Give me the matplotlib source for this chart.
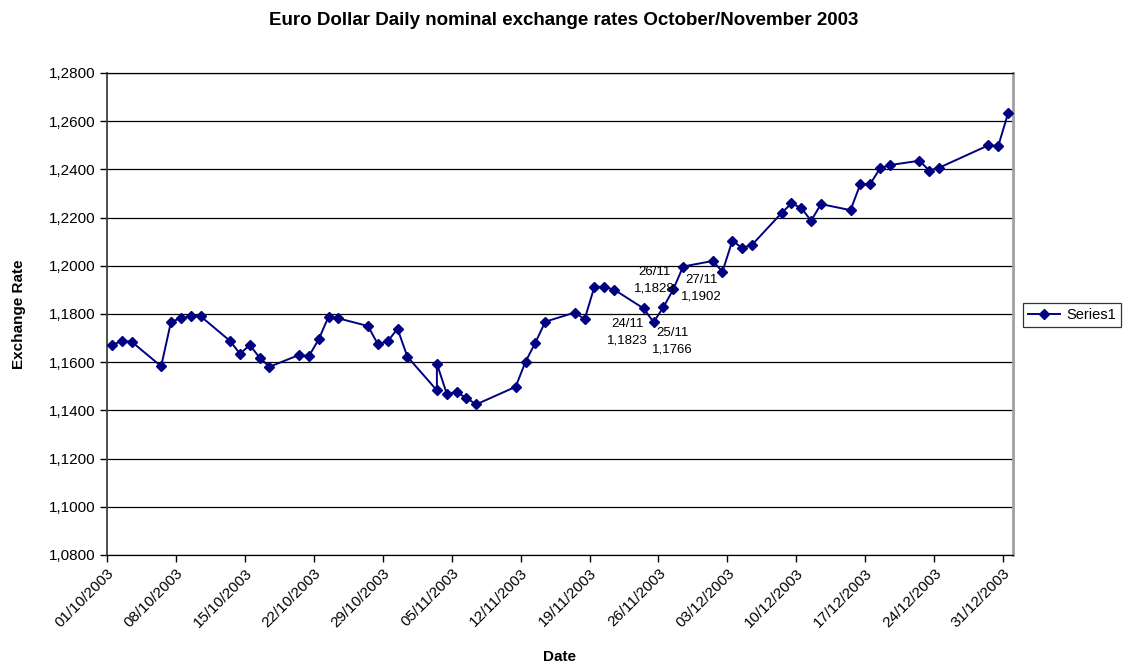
import datetime as dt
import matplotlib
matplotlib.use('Agg')
import matplotlib.pyplot as plt
import matplotlib.dates as mdates
from matplotlib.ticker import FuncFormatter, MultipleLocator

plt.rcParams['font.family'] = ['Liberation Sans', 'DejaVu Sans']

# trading days (Nov 3 appears twice in the source series)
dates = [
    '2003-10-01', '2003-10-02', '2003-10-03', '2003-10-06', '2003-10-07', '2003-10-08',
    '2003-10-09', '2003-10-10', '2003-10-13', '2003-10-14', '2003-10-15', '2003-10-16',
    '2003-10-17', '2003-10-20', '2003-10-21', '2003-10-22', '2003-10-23', '2003-10-24',
    '2003-10-27', '2003-10-28', '2003-10-29', '2003-10-30', '2003-10-31', '2003-11-03',
    '2003-11-03', '2003-11-04', '2003-11-05', '2003-11-06', '2003-11-07', '2003-11-11',
    '2003-11-12', '2003-11-13', '2003-11-14', '2003-11-17', '2003-11-18', '2003-11-19',
    '2003-11-20', '2003-11-21', '2003-11-24', '2003-11-25', '2003-11-26', '2003-11-27',
    '2003-11-28', '2003-12-01', '2003-12-02', '2003-12-03', '2003-12-04', '2003-12-05',
    '2003-12-08', '2003-12-09', '2003-12-10', '2003-12-11', '2003-12-12', '2003-12-15',
    '2003-12-16', '2003-12-17', '2003-12-18', '2003-12-19', '2003-12-22', '2003-12-23',
    '2003-12-24', '2003-12-29', '2003-12-30', '2003-12-31',
]
rates = [
    1.1671, 1.1688, 1.1685, 1.1583, 1.1768, 1.1782,
    1.1791, 1.1791, 1.1688, 1.1635, 1.1671, 1.1619,
    1.1581, 1.1630, 1.1625, 1.1695, 1.1789, 1.1782,
    1.1750, 1.1675, 1.1686, 1.1739, 1.1623, 1.1483,
    1.1594, 1.1469, 1.1476, 1.1451, 1.1425, 1.1498,
    1.1602, 1.1681, 1.1768, 1.1806, 1.1778, 1.1914,
    1.1912, 1.1901, 1.1823, 1.1766, 1.1828, 1.1902,
    1.1997, 1.2020, 1.1976, 1.2104, 1.2074, 1.2087,
    1.2219, 1.2259, 1.2240, 1.2187, 1.2256, 1.2231,
    1.2339, 1.2339, 1.2405, 1.2418, 1.2436, 1.2395,
    1.2407, 1.2500, 1.2497, 1.2633,
]
labelled = ['2003-11-24', '2003-11-25', '2003-11-26', '2003-11-27']
label_offsets = [(-16, -24), (19, -19), (-9, 27), (28, 1)]

navy = '#000080'
half_day = dt.timedelta(hours=12)
x = [dt.datetime.strptime(d, '%Y-%m-%d') + half_day for d in dates]

fig = plt.figure(figsize=(11.28, 6.66), dpi=100)
ax = fig.add_axes([107 / 1128, 1 - 555 / 666, (1013 - 107) / 1128, (555 - 73) / 666])

ax.plot(x, rates, color=navy, lw=1.4, marker='D', ms=5.5, label='Series1', zorder=3)

for d, off in zip(labelled, label_offsets):
    i = dates.index(d)
    day = dt.datetime.strptime(d, '%Y-%m-%d')
    txt = day.strftime('%d/%m') + '\n' + ('%.4f' % rates[i]).replace('.', ',')
    ax.annotate(txt, (x[i], rates[i]), xytext=off, textcoords='offset pixels',
                ha='center', va='center', fontsize=9.5, linespacing=1.45)

ax.set_xlim(dt.datetime(2003, 10, 1), dt.datetime(2004, 1, 1))
ax.set_ylim(1.08, 1.28)
ax.yaxis.set_major_locator(MultipleLocator(0.02))
ax.yaxis.set_major_formatter(FuncFormatter(lambda v, p: ('%.4f' % v).replace('.', ',')))
ticks = [dt.datetime(2003, 10, 1) + dt.timedelta(days=7 * k) for k in range(14)]
ax.set_xticks(ticks)
ax.xaxis.set_major_formatter(mdates.DateFormatter('%d/%m/%Y'))
plt.setp(ax.get_xticklabels(), rotation=45, ha='right', rotation_mode='anchor')

ax.grid(axis='y', color='black', lw=0.9)
ax.set_axisbelow(True)
ax.tick_params(axis='both', length=5, width=1, labelsize=11, direction='out', color='black')
ax.tick_params(axis='x', pad=3)
for s in ['top', 'left', 'bottom']:
    ax.spines[s].set_color('black')
    ax.spines[s].set_linewidth(0.9)
ax.spines['left'].set_color('#404040')
ax.spines['left'].set_linewidth(1.3)
ax.spines['right'].set_color('#a0a0a0')
ax.spines['right'].set_linewidth(2)

ax.set_xlabel('Date', fontsize=11, fontweight='bold', labelpad=14)
ax.set_ylabel('Exchange Rate', fontsize=11, fontweight='bold', labelpad=16)
fig.suptitle('Euro Dollar Daily nominal exchange rates October/November 2003',
             fontsize=13.5, fontweight='bold', y=0.982)

leg = ax.legend(loc='center left', bbox_to_anchor=(1023 / 1128, 1 - 315 / 666),
                bbox_transform=fig.transFigure, frameon=True, fancybox=False,
                fontsize=10.5, handlelength=2.2, handletextpad=0.4, borderpad=0.35,
                borderaxespad=0, edgecolor='black')
leg.get_frame().set_linewidth(0.9)

fig.savefig('out.png', dpi=100)
